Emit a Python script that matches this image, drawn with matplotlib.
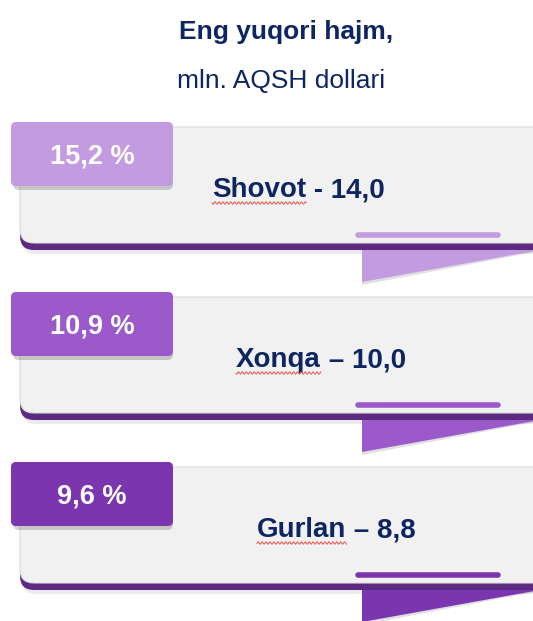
import numpy as np
import matplotlib.pyplot as plt
from matplotlib.patches import FancyBboxPatch, Polygon

# data
districts = ["Shovot", "Xonqa", "Gurlan"]
volumes = [14.0, 10.0, 8.8]
shares = [15.2, 10.9, 9.6]
dashes = ["-", "\u2013", "\u2013"]
title_1 = "Eng yuqori hajm,"
title_2 = "mln. AQSH dollari"

# styles
tab_colors = ["#C39BE0", "#9B59C9", "#7B35AF"]
edge_color = "#5C2A80"
card_color = "#F1F1F1"
text_color = "#0D2561"
fonts = ["Liberation Sans", "DejaVu Sans"]
name_x = [212, 236, 257]

fig = plt.figure(figsize=(5.33, 6.21), dpi=100)
ax = fig.add_axes([0, 0, 1, 1])
ax.set_xlim(0, 533)
ax.set_ylim(621, 0)
ax.axis("off")

ax.text(286, 32, title_1, ha="center", va="center", fontsize=19,
        fontweight="bold", color=text_color, family=fonts)
ax.text(281, 81, title_2, ha="center", va="center", fontsize=19,
        color=text_color, family=fonts)

fig.canvas.draw()
renderer = fig.canvas.get_renderer()

for i, (name, vol, share) in enumerate(zip(districts, volumes, shares)):
    y0 = 122 + 170 * i
    c = tab_colors[i]

    # shadow under card
    ax.add_patch(FancyBboxPatch((22, y0 + 8), 530, 124,
                                boxstyle="round,pad=0,rounding_size=14",
                                fc="#000000", ec="none", alpha=0.08, zorder=1))
    # purple bottom edge
    ax.add_patch(FancyBboxPatch((20, y0 + 5), 530, 123,
                                boxstyle="round,pad=0,rounding_size=14",
                                fc=edge_color, ec="none", zorder=2))
    # grey card
    ax.add_patch(FancyBboxPatch((20, y0 + 5), 530, 116,
                                boxstyle="round,pad=0,rounding_size=14",
                                fc=card_color, ec="#DADADA", lw=0.8, zorder=3))

    # fold under the card
    ax.add_patch(Polygon([(362, y0 + 129), (540, y0 + 129), (362, y0 + 163)],
                         closed=True, fc="#000000", ec="none", alpha=0.12, zorder=1))
    ax.add_patch(Polygon([(362, y0 + 128), (540, y0 + 128), (362, y0 + 160)],
                         closed=True, fc=c, ec="none", zorder=2))

    # thin bar
    ax.plot([358, 498], [y0 + 113, y0 + 113], color=c, lw=4,
            solid_capstyle="round", zorder=4)

    # tab with shadow
    ax.add_patch(FancyBboxPatch((13, y0 + 4), 160, 64,
                                boxstyle="round,pad=0,rounding_size=6",
                                fc="#000000", ec="none", alpha=0.18, zorder=5))
    ax.add_patch(FancyBboxPatch((11, y0), 162, 64,
                                boxstyle="round,pad=0,rounding_size=5",
                                fc=c, ec="none", zorder=6))
    ax.text(92, y0 + 34, f"{share:.1f} %".replace(".", ","), ha="center",
            va="center", fontsize=19.5, fontweight="bold", color="white",
            family=fonts, zorder=7)

    # label: name + value
    t = ax.text(name_x[i], y0 + 75, name, ha="left", va="baseline",
                fontsize=20, fontweight="bold", color=text_color,
                family=fonts, zorder=7)
    bb = t.get_window_extent(renderer).transformed(ax.transData.inverted())
    ax.text(bb.x1, y0 + 75, f" {dashes[i]} {vol:.1f}".replace(".", ","),
            ha="left", va="baseline", fontsize=20, fontweight="bold",
            color=text_color, family=fonts, zorder=7)
    xs = np.linspace(bb.x0, bb.x1, 200)
    ax.plot(xs, y0 + 81 + 1.2 * np.sin(xs * 1.6), color="#E8534F",
            lw=0.7, zorder=7)

fig.savefig("out.png", dpi=100)
